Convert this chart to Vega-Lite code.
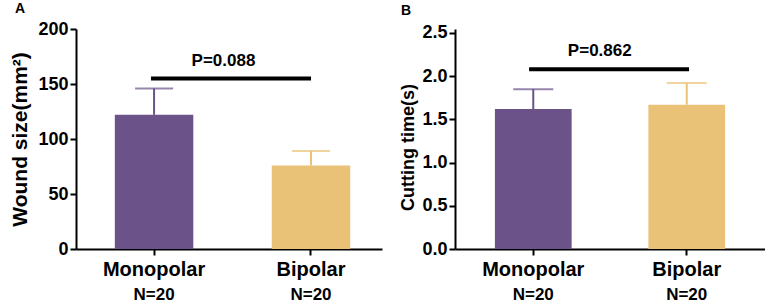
{
  "$schema": "https://vega.github.io/schema/vega-lite/v6.json",
  "padding": {"left": 9, "top": 2, "right": 0, "bottom": 0},
  "background": "white",
  "config": {
    "font": "Liberation Sans",
    "view": {"stroke": null},
    "concat": {"spacing": 17},
    "axis": {
      "domainColor": "black", "domainWidth": 2, "tickColor": "black", "tickWidth": 2, "tickSize": 6,
      "labelFont": "Liberation Sans", "labelFontWeight": "bold", "labelColor": "black",
      "titleFont": "Liberation Sans", "titleFontWeight": "bold", "titleColor": "black",
      "grid": false
    },
    "title": {"font": "Liberation Sans", "fontWeight": "bold", "fontSize": 14, "anchor": "start", "color": "black"}
  },
  "datasets": {
    "a": [
      {"group": "Monopolar", "mean": 122, "upper": 146},
      {"group": "Bipolar", "mean": 76, "upper": 89}
    ],
    "b": [
      {"group": "Monopolar", "mean": 1.62, "upper": 1.85},
      {"group": "Bipolar", "mean": 1.67, "upper": 1.92}
    ],
    "pa": [{"x1": 0.245, "x2": 0.768, "y": 155, "xm": 0.482, "ty": 166, "label": "P=0.088"}],
    "pb": [{"x1": 0.239, "x2": 0.755, "y": 2.08, "xm": 0.467, "ty": 2.23, "label": "P=0.862"}]
  },
  "hconcat": [
    {
      "width": 306, "height": 220,
      "title": {"text": "A", "offset": 4, "dx": 5},
      "resolve": {"scale": {"x": "independent"}, "axis": {"x": "independent"}},
      "layer": [
        {
          "data": {"name": "a"},
          "mark": {"type": "bar"},
          "encoding": {
            "x": {"field": "group", "type": "nominal", "sort": null,
                  "scale": {"paddingInner": 0.5, "paddingOuter": 0.225, "align": 0.55},
                  "axis": {"orient": "bottom", "title": null, "labelAngle": 0, "labelFontSize": 20, "labelPadding": 4}},
            "y": {"field": "mean", "type": "quantitative", "title": "Wound size(mm²)",
                  "scale": {"domain": [0, 200]},
                  "axis": {"values": [0, 50, 100, 150, 200], "labelFontSize": 18, "labelPadding": 2, "titleFontSize": 21, "titlePadding": 7}},
            "color": {"field": "group", "type": "nominal", "legend": null,
                      "scale": {"domain": ["Monopolar", "Bipolar"], "range": ["#6B5289", "#EAC277"]}}
          }
        },
        {
          "data": {"name": "a"},
          "mark": {"type": "rule", "strokeWidth": 2},
          "encoding": {
            "x": {"field": "group", "type": "nominal", "sort": null,
                  "scale": {"paddingInner": 0.5, "paddingOuter": 0.225, "align": 0.55},
                  "axis": {"orient": "bottom", "title": null, "labelAngle": 0, "labelFontSize": 17, "labelPadding": 37, "domain": false, "ticks": false, "labelExpr": "'N=20'"}},
            "y": {"field": "mean", "type": "quantitative", "title": "Wound size(mm²)"},
            "y2": {"field": "upper"},
            "color": {"field": "group", "type": "nominal", "legend": null}
          }
        },
        {
          "data": {"name": "a"},
          "mark": {"type": "tick", "thickness": 2, "size": 38},
          "encoding": {
            "x": {"field": "group", "type": "nominal", "sort": null,
                  "scale": {"paddingInner": 0.5, "paddingOuter": 0.225, "align": 0.55}, "axis": null},
            "y": {"field": "upper", "type": "quantitative", "title": "Wound size(mm²)"},
            "color": {"field": "group", "type": "nominal", "legend": null}
          }
        },
        {
          "data": {"name": "pa"},
          "mark": {"type": "rule", "strokeWidth": 4, "color": "black"},
          "encoding": {
            "x": {"field": "x1", "type": "quantitative", "scale": {"domain": [0, 1]}, "axis": null},
            "x2": {"field": "x2"},
            "y": {"field": "y", "type": "quantitative", "title": "Wound size(mm²)"}
          }
        },
        {
          "data": {"name": "pa"},
          "mark": {"type": "text", "fontSize": 17, "fontWeight": "bold", "baseline": "alphabetic", "color": "black"},
          "encoding": {
            "x": {"field": "xm", "type": "quantitative", "scale": {"domain": [0, 1]}, "axis": null},
            "y": {"field": "ty", "type": "quantitative", "title": "Wound size(mm²)"},
            "text": {"field": "label"}
          }
        }
      ]
    },
    {
      "width": 310, "height": 220,
      "title": {"text": "B", "offset": 6, "dx": 1},
      "resolve": {"scale": {"x": "independent"}, "axis": {"x": "independent"}},
      "layer": [
        {
          "data": {"name": "b"},
          "mark": {"type": "bar"},
          "encoding": {
            "x": {"field": "group", "type": "nominal", "sort": null,
                  "scale": {"paddingInner": 0.5, "paddingOuter": 0.26},
                  "axis": {"orient": "bottom", "title": null, "labelAngle": 0, "labelFontSize": 20, "labelPadding": 4}},
            "y": {"field": "mean", "type": "quantitative", "title": "Cutting time(s)",
                  "scale": {"domain": [0, 2.546], "nice": false},
                  "axis": {"values": [0, 0.5, 1, 1.5, 2, 2.5], "format": ".1f", "labelFontSize": 18, "labelPadding": 2, "titleFontSize": 18, "titlePadding": 4, "titleY": 118}},
            "color": {"field": "group", "type": "nominal", "legend": null,
                      "scale": {"domain": ["Monopolar", "Bipolar"], "range": ["#6B5289", "#EAC277"]}}
          }
        },
        {
          "data": {"name": "b"},
          "mark": {"type": "rule", "strokeWidth": 2},
          "encoding": {
            "x": {"field": "group", "type": "nominal", "sort": null,
                  "scale": {"paddingInner": 0.5, "paddingOuter": 0.26},
                  "axis": {"orient": "bottom", "title": null, "labelAngle": 0, "labelFontSize": 17, "labelPadding": 37, "domain": false, "ticks": false, "labelExpr": "'N=20'"}},
            "y": {"field": "mean", "type": "quantitative", "title": "Cutting time(s)"},
            "y2": {"field": "upper"},
            "color": {"field": "group", "type": "nominal", "legend": null}
          }
        },
        {
          "data": {"name": "b"},
          "mark": {"type": "tick", "thickness": 2, "size": 40},
          "encoding": {
            "x": {"field": "group", "type": "nominal", "sort": null,
                  "scale": {"paddingInner": 0.5, "paddingOuter": 0.26}, "axis": null},
            "y": {"field": "upper", "type": "quantitative", "title": "Cutting time(s)"},
            "color": {"field": "group", "type": "nominal", "legend": null}
          }
        },
        {
          "data": {"name": "pb"},
          "mark": {"type": "rule", "strokeWidth": 4, "color": "black"},
          "encoding": {
            "x": {"field": "x1", "type": "quantitative", "scale": {"domain": [0, 1]}, "axis": null},
            "x2": {"field": "x2"},
            "y": {"field": "y", "type": "quantitative", "title": "Cutting time(s)"}
          }
        },
        {
          "data": {"name": "pb"},
          "mark": {"type": "text", "fontSize": 17, "fontWeight": "bold", "baseline": "alphabetic", "color": "black"},
          "encoding": {
            "x": {"field": "xm", "type": "quantitative", "scale": {"domain": [0, 1]}, "axis": null},
            "y": {"field": "ty", "type": "quantitative", "title": "Cutting time(s)"},
            "text": {"field": "label"}
          }
        }
      ]
    }
  ]
}
